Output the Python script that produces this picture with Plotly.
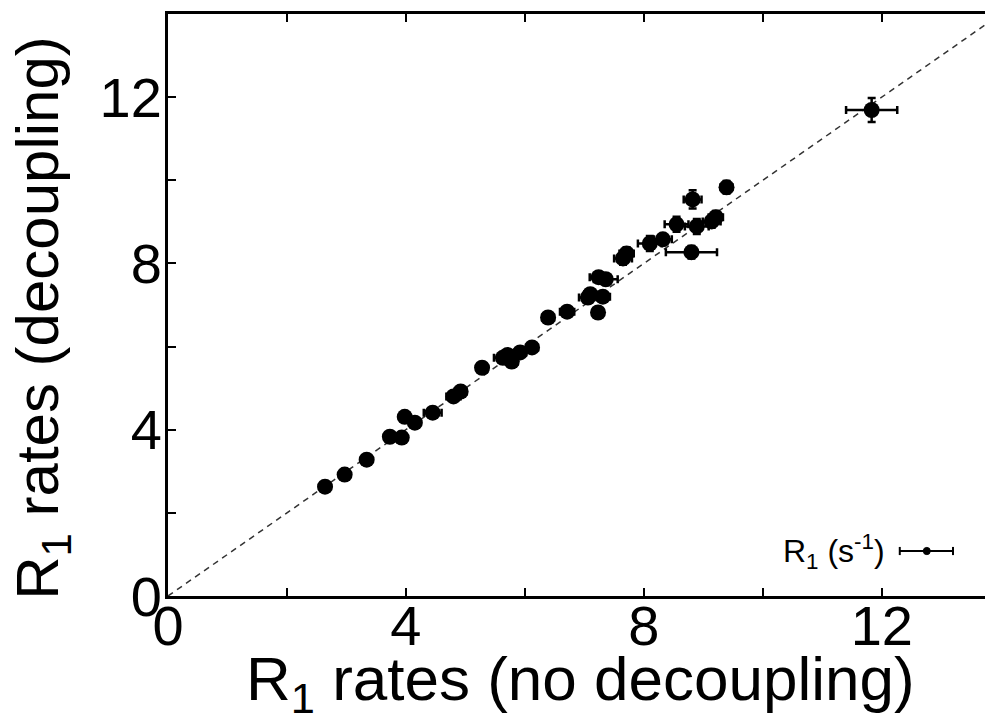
import plotly.graph_objects as go

# R1 rates (s^-1)
r1_no_decoupling = [2.64, 2.97, 3.34, 3.73, 3.93, 3.98, 4.15, 4.45, 4.80, 4.92,
                    5.28, 5.63, 5.78, 5.71, 5.92, 6.12, 6.39, 6.71, 7.06, 7.10,
                    7.23, 7.31, 7.24, 7.36, 7.65, 7.71, 8.10, 8.32, 8.55, 8.80,
                    8.89, 8.82, 9.14, 9.21, 9.39, 11.83]
r1_decoupling = [2.63, 2.92, 3.28, 3.83, 3.81, 4.31, 4.17, 4.41, 4.80, 4.92,
                 5.49, 5.73, 5.64, 5.80, 5.86, 5.98, 6.70, 6.84, 7.18, 7.26,
                 6.82, 7.20, 7.67, 7.62, 8.12, 8.24, 8.48, 8.58, 8.94, 8.27,
                 8.89, 9.54, 9.01, 9.11, 9.83, 11.69]
err_no_decoupling = [0.05, 0.05, 0.05, 0.08, 0.06, 0.06, 0.06, 0.15, 0.12, 0.10,
                     0.08, 0.15, 0.10, 0.10, 0.10, 0.10, 0.10, 0.12, 0.15, 0.10,
                     0.08, 0.12, 0.15, 0.20, 0.15, 0.12, 0.20, 0.15, 0.20, 0.43,
                     0.20, 0.15, 0.15, 0.12, 0.10, 0.43]
err_decoupling = [0.05, 0.05, 0.05, 0.08, 0.06, 0.06, 0.06, 0.10, 0.10, 0.10,
                  0.08, 0.08, 0.08, 0.10, 0.08, 0.10, 0.08, 0.10, 0.12, 0.10,
                  0.10, 0.12, 0.10, 0.12, 0.15, 0.15, 0.18, 0.12, 0.18, 0.15,
                  0.18, 0.22, 0.15, 0.15, 0.15, 0.29]

major_ticks = [0, 4, 8, 12]
minor_ticks = [2, 6, 10]

FONT = "Liberation Sans, Arial, sans-serif"

fig = go.Figure()
fig.add_trace(go.Scatter(
    x=r1_no_decoupling, y=r1_decoupling, mode="markers",
    marker=dict(color="black", size=16),
    error_x=dict(type="data", array=err_no_decoupling, color="black", thickness=2.5, width=4),
    error_y=dict(type="data", array=err_decoupling, color="black", thickness=2.5, width=4),
    showlegend=False,
))

# y = x reference line
fig.add_shape(type="line", xref="x", yref="y", x0=0, y0=0, x1=14, y1=14,
              line=dict(color="#333333", width=1.5, dash="6px,5px"), layer="below")

# legend sample (error bar with dot)
ly = 0.0773
fig.add_shape(type="line", xref="paper", yref="paper", x0=0.887, x1=0.9515, y0=ly, y1=ly,
              line=dict(color="black", width=2))
for cx in (0.887, 0.9515):
    fig.add_shape(type="line", xref="paper", yref="paper", x0=cx, x1=cx, y0=ly - 0.007, y1=ly + 0.007,
                  line=dict(color="black", width=2))
fig.add_shape(type="circle", xref="paper", yref="paper", x0=0.9155, x1=0.924,
              y0=ly - 0.0062, y1=ly + 0.0062, fillcolor="black", line=dict(color="black", width=1))
fig.add_annotation(text="R<sub>1</sub> (s<sup>-1</sup>)", xref="paper", yref="paper",
                   x=0.8715, y=ly, xanchor="right", yanchor="middle", showarrow=False,
                   font=dict(family=FONT, size=32, color="black"))

# axis titles
fig.add_annotation(text="R<sub>1</sub> rates (no decoupling)", xref="paper", yref="paper",
                   x=0.5, y=-0.1495, xanchor="center", yanchor="middle", showarrow=False,
                   font=dict(family=FONT, size=62, color="black"))
fig.add_annotation(text="R<sub>1</sub> rates (decoupling)", xref="paper", yref="paper",
                   x=-0.1527, y=0.478, xanchor="center", yanchor="middle", showarrow=False,
                   textangle=-90, font=dict(family=FONT, size=60, color="black"))

axis_style = dict(
    tickvals=major_ticks,
    ticks="inside", ticklen=8, tickwidth=2, tickcolor="black",
    minor=dict(tickvals=minor_ticks, ticks="inside", ticklen=8, tickwidth=2, tickcolor="black"),
    showline=True, linewidth=3, linecolor="black",
    showgrid=False, zeroline=False, automargin=False,
    tickfont=dict(family=FONT, size=56, color="black"),
)

fig.update_xaxes(range=[0, 13.87], mirror="ticks", ticklabelstandoff=-21, **axis_style)
fig.update_yaxes(range=[0, 14], mirror=False, ticklabelstandoff=-8, **axis_style)

# the page body adds 8 px around the figure, so the figure is 8 px smaller
fig.update_layout(
    width=985, height=715,
    margin=dict(l=160, r=0, t=6, b=127),
    plot_bgcolor="white", paper_bgcolor="white",
)

fig.write_html("out.html")
